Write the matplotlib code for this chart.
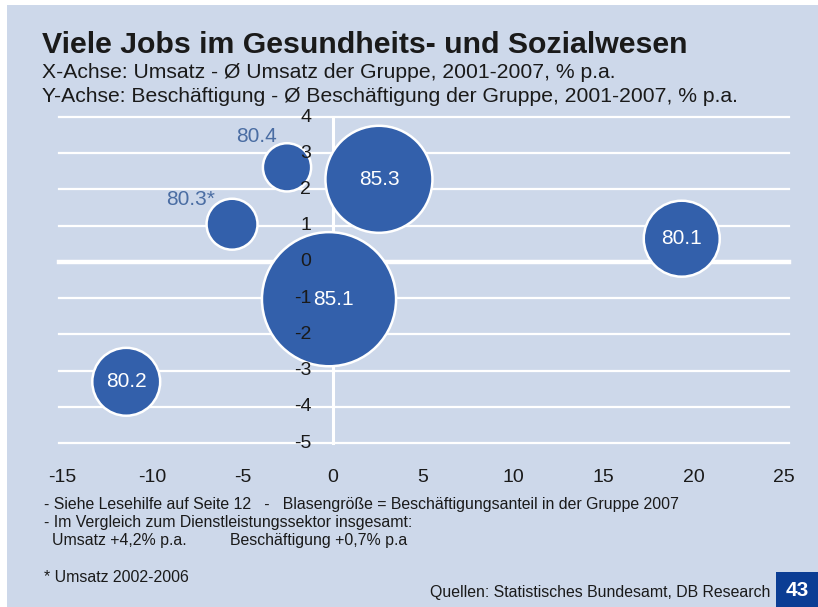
import matplotlib
matplotlib.use('Agg')
import matplotlib.pyplot as plt
from matplotlib.patches import Rectangle

bg = '#cdd8ea'
bubble_blue = '#3360ab'
label_blue = '#4a6da3'
page_blue = '#0b3d94'
ink = '#1a1a1a'

plain = ['Liberation Sans', 'DejaVu Sans']

# WZ codes, growth vs. group average (% p.a.) and employment share 2007 (%)
codes = ['80.4', '85.3', '80.3*', '80.1', '85.1', '80.2']
umsatz = [-2.55, 2.55, -5.6, 19.35, -0.22, -11.47]
beschaeftigung = [2.61, 2.28, 1.04, 0.64, -1.03, -3.31]
anteil = [5.2, 25.6, 5.8, 12.9, 40.2, 10.3]

# small bubbles get their label up and to the left
outside_labels = {'80.4': (-22, 22), '80.3*': (-30, 18)}
inside_nudge = {'85.1': (3, 0)}

x_ticks = [-15, -10, -5, 0, 5, 10, 15, 20, 25]
y_ticks = [-5, -4, -3, -2, -1, 0, 1, 2, 3, 4]

fig = plt.figure(figsize=(8.18, 6.07), dpi=100)
fig.patch.set_facecolor('white')
fig.patches.append(Rectangle((7 / 818, 0), 1, 1 - 5 / 607, transform=fig.transFigure,
                             facecolor=bg, edgecolor='none', zorder=-10))

ax = fig.add_axes([59 / 818, 1 - 443 / 607, (789 - 59) / 818, (443 - 117) / 607])
ax.set_facecolor('none')
ax.set_xlim(-15.2, 25.3)
ax.set_ylim(-5, 4)
for s in ax.spines.values():
    s.set_visible(False)
ax.set_xticks([])
ax.set_yticks([])

# horizontal grid, zero line heavier
for y in y_ticks:
    ax.axhline(y, color='white', lw=3.2 if y == 0 else 1.6, clip_on=False, zorder=1)
ax.plot([0, 0], [-5, 4], color='white', lw=2.2, clip_on=False, zorder=1)

sizes = [a * 232 for a in anteil]
ax.scatter(umsatz, beschaeftigung, s=sizes, color=bubble_blue, edgecolors='white',
           linewidths=1.8, zorder=3, clip_on=False)

for code, x, y in zip(codes, umsatz, beschaeftigung):
    if code in outside_labels:
        ax.annotate(code, (x, y), xytext=outside_labels[code], textcoords='offset points',
                    ha='center', va='center', fontsize=15, color=label_blue,
                    family=plain, zorder=5)
    else:
        ax.annotate(code, (x, y), xytext=inside_nudge.get(code, (0, 0)),
                    textcoords='offset points', ha='center', va='center', fontsize=15,
                    color='white', family=plain, zorder=5)

# y labels sit on the vertical axis, above the bubbles
for y in y_ticks:
    ax.text(-1.2, y, str(y), ha='right', va='center', fontsize=14, color=ink,
            family=plain, zorder=6)

for x in x_ticks:
    ax.annotate(str(x), (x, -5), xytext=(0, -25), textcoords='offset points',
                ha='center', va='center', fontsize=14, color=ink, family=plain,
                annotation_clip=False)

fig.text(42 / 818, 1 - 45 / 607, 'Viele Jobs im Gesundheits- und Sozialwesen',
         fontsize=21.8, fontweight='bold', color=ink, family=plain, va='center')
fig.text(42 / 818, 1 - 72 / 607, 'X-Achse: Umsatz - Ø Umsatz der Gruppe, 2001-2007, % p.a.',
         fontsize=15.2, color=ink, family=plain, va='center')
fig.text(42 / 818, 1 - 96 / 607,
         'Y-Achse: Beschäftigung - Ø Beschäftigung der Gruppe, 2001-2007, % p.a.',
         fontsize=15.2, color=ink, family=plain, va='center')

notes = [
    (44, 504, '- Siehe Lesehilfe auf Seite 12   -   Blasengröße = Beschäftigungsanteil in der Gruppe 2007'),
    (44, 523, '- Im Vergleich zum Dienstleistungssektor insgesamt:'),
    (52, 541, 'Umsatz +4,2% p.a.'),
    (230, 541, 'Beschäftigung +0,7% p.a'),
    (44, 578, '* Umsatz 2002-2006'),
]
for x, y, t in notes:
    fig.text(x / 818, 1 - y / 607, t, fontsize=11.4, color=ink, family=plain, va='center')
fig.text(770 / 818, 1 - 592 / 607, 'Quellen: Statistisches Bundesamt, DB Research',
         fontsize=11.4, color=ink, family=plain, va='center', ha='right')

fig.patches.append(Rectangle((776 / 818, 0), 42 / 818, 35 / 607, transform=fig.transFigure,
                             facecolor=page_blue, edgecolor='none'))
fig.text(797 / 818, 1 - 591 / 607, '43', fontsize=15, fontweight='bold', color='white',
         family=plain, ha='center', va='center')

fig.savefig('out.png', dpi=100, facecolor=fig.get_facecolor())
